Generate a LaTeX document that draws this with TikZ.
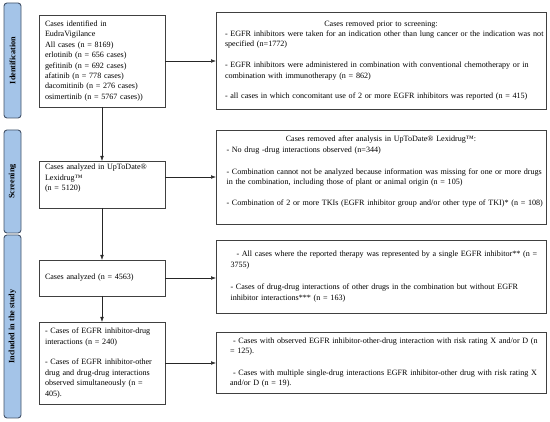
\documentclass[tikz,border=0pt]{standalone}
\usepackage{fontspec}
\setmainfont{Liberation Serif}
\usetikzlibrary{arrows.meta}
\definecolor{barfill}{HTML}{A4C4E8}
\definecolor{barline}{HTML}{44546A}
\definecolor{boxline}{HTML}{404040}
\begin{document}
\begin{tikzpicture}[x=1pt,y=-1pt,
  box/.style={draw=boxline, line width=0.8pt, anchor=north west, outer sep=0pt,
    inner xsep=0pt, inner ysep=0pt, align=left,
    font=\fontsize{8.1}{10.4}\selectfont,
    execute at begin node={\parindent=0pt}},
  bar/.style={draw=barline, fill=barfill, line width=0.9pt, rounded corners=3pt,
    rotate=90, minimum height=17pt, inner sep=0pt, outer sep=0pt,
    font=\bfseries\fontsize{8.2}{9}\selectfont},
  conn/.style={-{Latex[length=5pt,width=3.6pt]}, line width=0.5pt, black!85}]
\useasboundingbox (0,0) rectangle (550,422);

% stage bars
\node[bar, minimum width=115pt] (s1) at (12.5,60.5) {Identification};
\node[bar, minimum width=103pt] (s2) at (12.5,181.5) {Screening};
\node[bar, minimum width=183pt] (s3) at (12.5,326.5) {Included in the study};

% left column
\node[box, minimum width=126pt, minimum height=92pt, text width=126pt] (b1) at (39,15)
  {\leftskip=6pt Cases identified in\\ EudraVigilance\\ All cases (n = 8169)\\ erlotinib (n = 656 cases)\\ gefitinib (n = 692 cases)\\ afatinib (n = 778 cases)\\ dacomitinib (n = 276 cases)\\ osimertinib (n = 5767 cases))\par};

\node[box, minimum width=126pt, minimum height=47pt, text width=126pt] (b2) at (39,161)
  {\leftskip=6pt Cases analyzed in UpToDate\textregistered\\ Lexidrug\texttrademark\\ (n = 5120)\\[3.5pt]\mbox{}\par};

\node[box, minimum width=126pt, minimum height=36pt, text width=126pt] (b3) at (39,260)
  {\leftskip=6pt Cases analyzed (n = 4563)\par};

\node[box, minimum width=126pt, minimum height=82pt, text width=126pt] (b4) at (39,322)
  {\leftskip=6pt - Cases of EGFR inhibitor-drug\\ interactions (n = 240)\\[10.4pt] - Cases of EGFR inhibitor-other\\ drug and drug-drug interactions\\ observed simultaneously (n =\\ 405).\par};

% right column
\node[box, minimum width=330pt, minimum height=97pt, text width=330pt] (r1) at (216,12)
  {{\centering Cases removed prior to screening:\par}\leftskip=9pt - EGFR inhibitors were taken for an indication other than lung cancer or the indication was not\\ specified (n=1772)\\[10.4pt] - EGFR inhibitors were administered in combination with conventional chemotherapy or in\\ combination with immunotherapy (n = 862)\\[10.4pt] - all cases in which concomitant use of 2 or more EGFR inhibitors was reported (n = 415)\par};

\node[box, minimum width=330pt, minimum height=94pt, text width=330pt] (r2) at (216,130)
  {{\centering Cases removed after analysis in UpToDate\textregistered{} Lexidrug\texttrademark:\par}\leftskip=10.5pt - No drug -drug interactions observed (n=344)\\[12pt] - Combination cannot not be analyzed because information was missing for one or more drugs\\ in the combination, including those of plant or animal origin (n = 105)\\[10.4pt] - Combination of 2 or more TKIs (EGFR inhibitor group and/or other type of TKI)* (n = 108)\\[2pt]\mbox{}\par};

\node[box, minimum width=330pt, minimum height=73pt, text width=330pt] (r3) at (216,240)
  {\leftskip=14.5pt \hspace*{6pt}- All cases where the reported therapy was represented by a single EGFR inhibitor** (n =\\ 3755)\\[12pt] - Cases of drug-drug interactions of other drugs in the combination but without EGFR\\ inhibitor interactions*** (n = 163)\par};

\node[box, minimum width=330pt, minimum height=61pt, text width=330pt] (r4) at (216,332)
  {\leftskip=14pt \hspace*{3pt}- Cases with observed EGFR inhibitor-other-drug interaction with risk rating X and/or D (n\\ = 125).\\[11pt] \hspace*{3pt}- Cases with multiple single-drug interactions EGFR inhibitor-other drug with risk rating X\\ and/or D (n = 19).\par};

% connectors
\draw[conn] (b1.south) -- (b2.north);
\draw[conn] (b2.south) -- (b3.north);
\draw[conn] (b3.south) -- (b4.north);
\draw[conn] (b1.east) -- (r1.west |- b1.east);
\draw[conn] (b2.east |- r2.west) -- (r2.west);
\draw[conn] (b3.east) -- (r3.west |- b3.east);
\draw[conn] (b4.east) -- (r4.west |- b4.east);
\end{tikzpicture}
\end{document}
